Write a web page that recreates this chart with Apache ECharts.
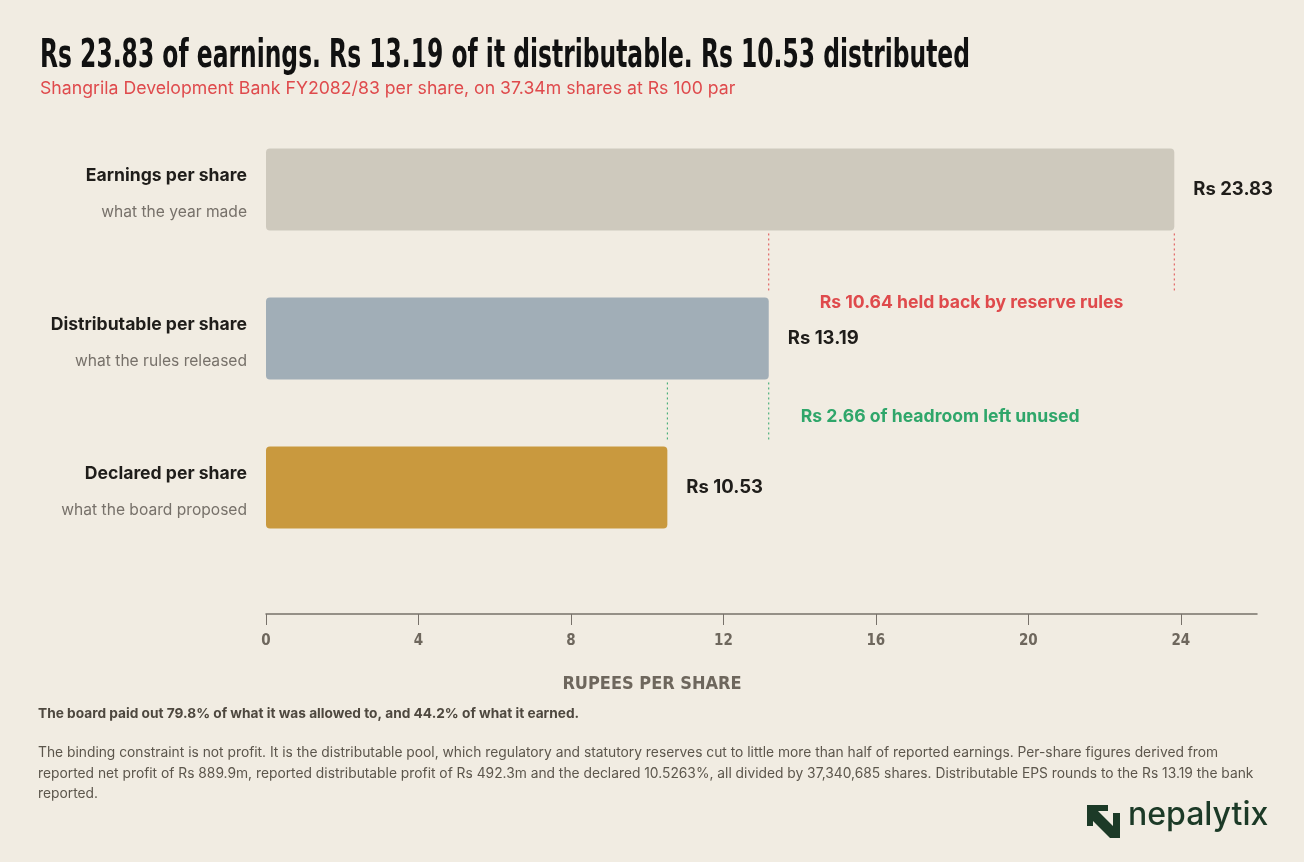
<!DOCTYPE html>
<html>
<head>
<meta charset="utf-8">
<script src="https://cdn.jsdelivr.net/npm/echarts@6/dist/echarts.min.js"></script>
<style>
  html, body { margin: 0; padding: 0; background: #f1ece2; }
  #chart { width: 1304px; height: 862px; }
</style>
</head>
<body>
<div id="chart"></div>
<script>
'use strict';

// data
var categories = ['Earnings per share', 'Distributable per share', 'Declared per share'];
var subLabels = ['what the year made', 'what the rules released', 'what the board proposed'];
var values = [23.83, 13.19, 10.53];
var xTicks = [0, 4, 8, 12, 16, 20, 24];
var xMin = 0, xMax = 26;

var heldBack = +(values[0] - values[1]).toFixed(2);   // 10.64
var headroom = +(values[1] - values[2]).toFixed(2);   // 2.66

var barColors = ['#cec9bd', '#a1aeb7', '#c9993e'];
var red = '#df4a4c';
var green = '#2fa66a';
var bodyFont = 'Inter, "Noto Sans", sans-serif';
var narrowFont = '"Liberation Sans Narrow", "DejaVu Sans Condensed", sans-serif';

var titleText = 'Rs 23.83 of earnings. Rs 13.19 of it distributable. Rs 10.53 distributed';
var titleFont = 'bold 39px "DejaVu Sans Condensed", sans-serif';

// squeeze the heavy title to the width it has in the original
function fitScale(text, font, width) {
    var ctx = document.createElement('canvas').getContext('2d');
    ctx.font = font;
    return width / ctx.measureText(text).width;
}
var titleScale = fitScale(titleText, titleFont, 930);

var chart = echarts.init(document.getElementById('chart'));

// dotted guide lines between bars (on a hidden value axis for the rows)
function guide(x, y0, y1, color) {
    return {
        type: 'line',
        yAxisIndex: 1,
        data: [[x, y0], [x, y1]],
        symbol: 'none',
        silent: true,
        lineStyle: { color: color, width: 1, type: [2, 3] },
        z: 1
    };
}

function note(x, y, text, color, align, dx) {
    return {
        type: 'scatter',
        yAxisIndex: 1,
        symbolSize: 0,
        silent: true,
        itemStyle: { opacity: 1 },
        data: [[x, y]],
        label: {
            show: true,
            position: 'inside',
            align: align,
            offset: [dx || 0, 0],
            formatter: text,
            color: color,
            fontFamily: bodyFont,
            fontWeight: 'bold',
            fontSize: 17.6
        }
    };
}

var option = {
    backgroundColor: '#f1ece2',
    animation: false,
    grid: { left: 266, right: 47, top: 115, height: 447 },
    xAxis: {
        type: 'value',
        min: xMin,
        max: xMax,
        offset: 52,
        splitLine: { show: false },
        axisLine: { show: true, onZero: false, lineStyle: { color: '#77716a', width: 1.5 } },
        axisTick: { show: true, length: 11, customValues: xTicks, lineStyle: { color: '#77716a' } },
        axisLabel: {
            margin: 20,
            customValues: xTicks,
            color: '#6e675d',
            fontFamily: narrowFont,
            fontWeight: 'bold',
            fontSize: 15
        }
    },
    yAxis: [{
        type: 'category',
        inverse: true,
        data: categories,
        axisLine: { show: false },
        axisTick: { show: false },
        axisLabel: {
            margin: 19,
            align: 'right',
            formatter: function (v, i) {
                return '{name|' + v + '}\n{sub|' + subLabels[i] + '}';
            },
            rich: {
                name: { fontFamily: bodyFont, fontWeight: 'bold', fontSize: 17.6, color: '#1f1d1a', lineHeight: 46, align: 'right' },
                sub: { fontFamily: bodyFont, fontSize: 15.6, color: '#77716a', lineHeight: 28, align: 'right' }
            }
        }
    }, {
        type: 'value',
        show: false,
        inverse: true,
        min: -0.5,
        max: 2.5
    }],
    series: [{
        type: 'bar',
        barWidth: 82,
        data: values.map(function (v, i) {
            return { value: v, itemStyle: { color: barColors[i] } };
        }),
        itemStyle: { borderRadius: 4 },
        label: {
            show: true,
            position: 'right',
            distance: 19,
            formatter: function (p) { return 'Rs ' + p.value.toFixed(2); },
            color: '#1f1d1a',
            fontFamily: bodyFont,
            fontWeight: 'bold',
            fontSize: 18.5
        },
        z: 2
    },
        guide(values[1], 0.295, 0.68, red),
        guide(values[0], 0.295, 0.68, red),
        guide(values[2], 1.295, 1.68, green),
        guide(values[1], 1.295, 1.68, green),
        note((values[0] + values[1]) / 2, 0.76, 'Rs ' + heldBack.toFixed(2) + ' held back by reserve rules', red, 'center'),
        note(values[1], 1.523, 'Rs ' + headroom.toFixed(2) + ' of headroom left unused', green, 'left', 32)
    ],
    graphic: [
        {
            type: 'text', x: 40, y: 57, scaleX: titleScale,
            style: { text: titleText, fill: '#111', font: titleFont, verticalAlign: 'middle' }
        },
        {
            type: 'text', left: 40, top: 80,
            style: { text: 'Shangrila Development Bank FY2082/83 per share, on 37.34m shares at Rs 100 par',
                fill: red, font: '17.7px ' + bodyFont }
        },
        {
            type: 'text', x: 652, y: 684,
            style: { text: 'RUPEES PER SHARE', fill: '#6e675d', align: 'center', verticalAlign: 'middle',
                font: 'bold 18px ' + narrowFont }
        },
        {
            type: 'text', left: 38, top: 707,
            style: { text: 'The board paid out 79.8% of what it was allowed to, and 44.2% of what it earned.',
                fill: '#4e483f', font: 'bold 13.7px ' + bodyFont }
        },
        {
            type: 'text', left: 38, top: 743,
            style: {
                text: 'The binding constraint is not profit. It is the distributable pool, which regulatory and statutory reserves cut to little more than half of reported earnings. Per-share figures derived from\n' +
                    'reported net profit of Rs 889.9m, reported distributable profit of Rs 492.3m and the declared 10.5263%, all divided by 37,340,685 shares. Distributable EPS rounds to the Rs 13.19 the bank\n' +
                    'reported.',
                fill: '#5c564c', font: '13.8px ' + bodyFont, lineHeight: 20.5
            }
        },
        // logo mark
        {
            type: 'polygon',
            shape: { points: [[1087, 805], [1108, 805], [1108, 811], [1098, 811], [1113, 826], [1113, 838], [1110, 838], [1093, 821], [1093, 826], [1087, 826]] },
            style: { fill: '#1c3a27' }
        },
        {
            type: 'rect',
            shape: { x: 1113, y: 813, width: 7, height: 25 },
            style: { fill: '#1c3a27' }
        },
        {
            type: 'text', left: 1128, top: 799,
            style: { text: 'nepalytix', fill: '#1c3a27', font: '500 32px ' + bodyFont, letterSpacing: 0.5 }
        }
    ]
};

chart.setOption(option);
</script>
</body>
</html>
